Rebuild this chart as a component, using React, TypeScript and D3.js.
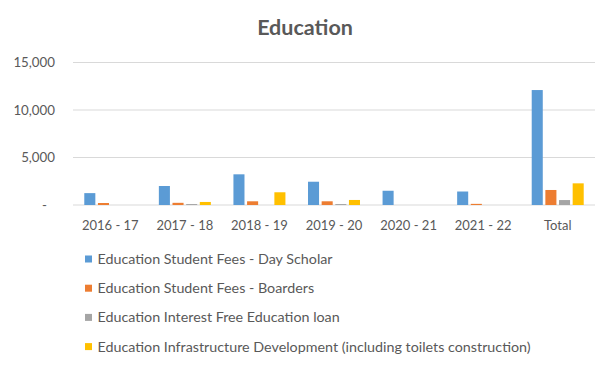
import React from "react";
import * as d3 from "d3";

const categories = ["2016 - 17", "2017 - 18", "2018 - 19", "2019 - 20", "2020 - 21", "2021 - 22", "Total"];
const seriesNames = [
  "Education Student Fees - Day Scholar",
  "Education Student Fees - Boarders",
  "Education Interest Free Education loan",
  "Education Infrastructure Development (including toilets construction)",
];
const dayScholar = [1250, 2000, 3230, 2450, 1500, 1420, 12100];
const boarders = [210, 230, 390, 390, 0, 120, 1580];
const loan = [0, 100, 0, 100, 0, 0, 520];
const infra = [0, 320, 1340, 530, 0, 0, 2280];
const yTicks = [0, 5000, 10000, 15000];
const colors = ["#5B9BD5", "#ED7D31", "#A5A5A5", "#FFC000"];

const allSeries = [dayScholar, boarders, loan, infra];

export default function App() {
  const W = 612, H = 366;
  const left = 73, right = 595, top = 62.5, bottom = 205;
  const x = d3.scaleBand<string>().domain(categories).range([left, right]).paddingInner(0).paddingOuter(0);
  const groupW = 52;
  const xs = d3.scaleBand<number>().domain([0, 1, 2, 3]).range([0, groupW]).paddingInner(0.19).paddingOuter(0);
  const y = d3.scaleLinear().domain([0, 15000]).range([bottom, top]);
  const font = "Lato, 'Open Sans', sans-serif";
  const fmt = d3.format(",");
  return (
    <svg width={W} height={H} style={{ position: "absolute", left: 0, top: 0 }} fontFamily={font}>
      <rect width={W} height={H} fill="#fff" />
      <text x={305} y={35} textAnchor="middle" fontSize={21.5} fontWeight="bold" fill="#595959">Education</text>
      {yTicks.map((t) => (
        <g key={t}>
          <line x1={left} x2={right} y1={y(t)} y2={y(t)} stroke="#D9D9D9" strokeWidth={1} />
          <text x={t === 0 ? 47 : 55} y={y(t)} dy="0.35em" textAnchor="end" fontSize={13.3} fill="#595959">
            {t === 0 ? "-" : fmt(t)}
          </text>
        </g>
      ))}
      {categories.map((c, i) => {
        const gx = (x(c) as number) + (x.bandwidth() - groupW) / 2;
        return (
          <g key={c}>
            {allSeries.map((s, k) => {
              const v = s[i];
              if (v <= 0) return null;
              return (
                <rect key={k} x={gx + (xs(k) as number)} y={y(v)} width={xs.bandwidth()} height={bottom - y(v)} fill={colors[k]} />
              );
            })}
            <text x={(x(c) as number) + x.bandwidth() / 2} y={225} dy="0.35em" textAnchor="middle" fontSize={13} fill="#595959">{c}</text>
          </g>
        );
      })}
      {seriesNames.map((n, k) => {
        const ly = 259 + k * 29.2;
        return (
          <g key={n}>
            <rect x={85} y={ly - 3.5} width={7} height={7} fill={colors[k]} />
            <text x={97.5} y={ly} dy="0.35em" fontSize={14.3} fill="#595959">{n}</text>
          </g>
        );
      })}
    </svg>
  );
}
